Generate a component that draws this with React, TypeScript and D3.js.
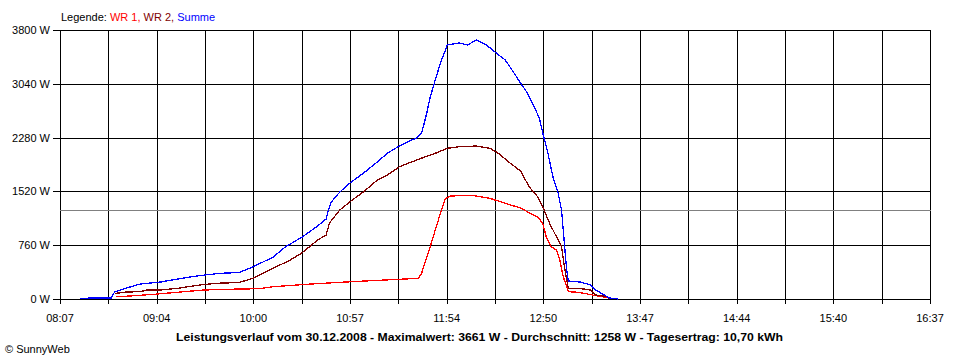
import React, { useRef, useEffect } from 'react';
import * as d3 from 'd3';

// Leistungsverlauf 30.12.2008 (values in W)
const wr1Times = ['08:40', '08:48', '09:02', '09:13', '09:31', '09:45', '10:04', '10:12', '10:32', '10:51', '11:10', '11:30', '11:37', '11:39', '11:41', '11:44', '11:47', '11:50', '11:53', '11:56', '12:01', '12:10', '12:19', '12:27', '12:37', '12:42', '12:47', '12:50', '12:52', '12:55', '12:58', '13:00', '13:02', '13:05', '13:11', '13:19', '13:28', '13:29'];
const wr1Values = [32, 42, 66, 89, 127, 137, 146, 174, 208, 236, 259, 283, 292, 363, 523, 739, 975, 1211, 1422, 1455, 1459, 1459, 1422, 1360, 1285, 1219, 1158, 1069, 880, 739, 692, 551, 315, 103, 95, 57, 18, 0];

const wr2Times = ['08:39', '08:46', '08:54', '08:58', '09:06', '09:16', '09:29', '09:39', '09:52', '10:00', '10:12', '10:22', '10:29', '10:38', '10:43', '10:45', '10:51', '10:57', '11:05', '11:13', '11:19', '11:26', '11:36', '11:44', '11:48', '11:54', '12:01', '12:11', '12:19', '12:24', '12:31', '12:37', '12:42', '12:47', '12:50', '12:54', '12:58', '13:01', '13:03', '13:05', '13:11', '13:18', '13:21', '13:28', '13:29'];
const wr2Values = [78, 99, 103, 127, 127, 151, 198, 222, 233, 292, 434, 551, 654, 833, 904, 1074, 1257, 1374, 1516, 1681, 1752, 1869, 1963, 2034, 2067, 2129, 2151, 2161, 2129, 2058, 1917, 1808, 1586, 1445, 1304, 1069, 880, 739, 410, 151, 151, 127, 57, 32, 7];

const sumTimes = ['08:19', '08:30', '08:37', '08:39', '08:46', '08:54', '09:06', '09:23', '09:32', '09:41', '09:52', '10:00', '10:12', '10:19', '10:29', '10:38', '10:43', '10:44', '10:46', '10:51', '10:57', '11:05', '11:13', '11:19', '11:25', '11:32', '11:36', '11:39', '11:41', '11:42', '11:44', '11:47', '11:50', '11:53', '11:54', '12:01', '12:06', '12:11', '12:17', '12:22', '12:28', '12:32', '12:37', '12:41', '12:45', '12:48', '12:50', '12:53', '12:56', '12:59', '13:01', '13:02', '13:03', '13:04', '13:05', '13:12', '13:18', '13:21', '13:26', '13:29', '13:34'];
const sumValues = [10, 15, 15, 99, 155, 212, 240, 311, 339, 363, 374, 452, 593, 735, 876, 1031, 1130, 1229, 1370, 1511, 1639, 1780, 1935, 2062, 2147, 2232, 2274, 2345, 2529, 2627, 2853, 3094, 3334, 3517, 3588, 3616, 3588, 3661, 3588, 3489, 3376, 3235, 3051, 2910, 2712, 2557, 2345, 2062, 1723, 1497, 1257, 975, 692, 410, 254, 240, 198, 127, 57, 14, 0];

const yTicks = [0, 760, 1520, 2280, 3040, 3800];
const xTickLabels = ['08:07', '09:04', '10:00', '10:57', '11:54', '12:50', '13:47', '14:44', '15:40', '16:37'];
const average = 1258;
const title = 'Leistungsverlauf vom 30.12.2008 - Maximalwert: 3661 W - Durchschnitt: 1258 W - Tagesertrag: 10,70 kWh';

function Chart() {
  const chartRef = useRef(null);

  useEffect(() => {
    const svg = d3.select(chartRef.current);
    svg.selectAll('*').remove();

    const font = 'Arial, "Liberation Sans", sans-serif';
    const parse = d3.timeParse('%H:%M');
    const start = parse('08:07');
    const end = parse('16:37');

    const xScale = d3.scaleTime().domain([start, end]).range([60, 930]);
    const yScale = d3.scaleLinear().domain([0, 3800]).range([299, 30]);

    const crisp = (v) => Math.round(v) + 0.5;

    // vertical grid lines: 18 intervals, labels on every second one
    const gridTimes = d3.range(19).map((i) => new Date(+start + (i * (+end - +start)) / 18));

    const grid = svg.append('g').attr('shape-rendering', 'crispEdges');
    grid
      .selectAll('line.v')
      .data(gridTimes)
      .enter()
      .append('line')
      .attr('x1', (d) => crisp(xScale(d)))
      .attr('x2', (d) => crisp(xScale(d)))
      .attr('y1', yScale(3800))
      .attr('y2', yScale(0) + 5)
      .attr('stroke', '#000');

    grid
      .selectAll('line.h')
      .data(yTicks)
      .enter()
      .append('line')
      .attr('x1', 53)
      .attr('x2', 931)
      .attr('y1', (d) => crisp(yScale(d)))
      .attr('y2', (d) => crisp(yScale(d)))
      .attr('stroke', '#000');

    // average line
    grid
      .append('line')
      .attr('x1', 60)
      .attr('x2', 931)
      .attr('y1', crisp(yScale(average)))
      .attr('y2', crisp(yScale(average)))
      .attr('stroke', '#808080');

    // y labels
    svg
      .selectAll('text.y')
      .data(yTicks)
      .enter()
      .append('text')
      .attr('x', 50)
      .attr('y', (d) => yScale(d) + 4)
      .attr('text-anchor', 'end')
      .attr('font-family', font)
      .attr('font-size', 11)
      .text((d) => `${d} W`);

    // x labels
    svg
      .selectAll('text.x')
      .data(xTickLabels)
      .enter()
      .append('text')
      .attr('x', (d, i) => xScale(gridTimes[i * 2]))
      .attr('y', 322)
      .attr('text-anchor', 'middle')
      .attr('font-family', font)
      .attr('font-size', 11)
      .text((d) => d);

    // series
    const series = [
      { times: wr1Times, values: wr1Values, color: '#ff0000' },
      { times: wr2Times, values: wr2Values, color: '#800000' },
      { times: sumTimes, values: sumValues, color: '#0000ff' },
    ];
    const line = d3
      .line()
      .x((d) => xScale(d[0]))
      .y((d) => yScale(d[1]));

    series.forEach((s) => {
      const pts = s.times.map((t, i) => [parse(t), s.values[i]]);
      svg
        .append('path')
        .datum(pts)
        .attr('d', line)
        .attr('fill', 'none')
        .attr('stroke', s.color)
        .attr('stroke-width', 1.3)
        .attr('shape-rendering', 'crispEdges');
    });

    // legend
    const legend = svg
      .append('text')
      .attr('x', 61)
      .attr('y', 21)
      .attr('font-family', font)
      .attr('font-size', 11);
    legend.append('tspan').attr('fill', '#000').text('Legende: ');
    legend.append('tspan').attr('fill', '#ff0000').text('WR 1, ');
    legend.append('tspan').attr('fill', '#800000').text('WR 2, ');
    legend.append('tspan').attr('fill', '#0000ff').text('Summe');

    // title
    svg
      .append('text')
      .attr('x', 176)
      .attr('y', 341)
      .attr('font-family', font)
      .attr('font-size', 11)
      .attr('font-weight', 'bold')
      .attr('textLength', 607)
      .attr('lengthAdjust', 'spacingAndGlyphs')
      .text(title);

    svg
      .append('text')
      .attr('x', 5)
      .attr('y', 353)
      .attr('font-family', font)
      .attr('font-size', 11)
      .text('© SunnyWeb');
  }, []);

  return <svg ref={chartRef} width={960} height={360} style={{ display: 'block', background: '#fff' }}></svg>;
}

export default function App() {
  return (
    <div style={{ position: 'absolute', left: 0, top: 0 }}>
      <Chart />
    </div>
  );
}
